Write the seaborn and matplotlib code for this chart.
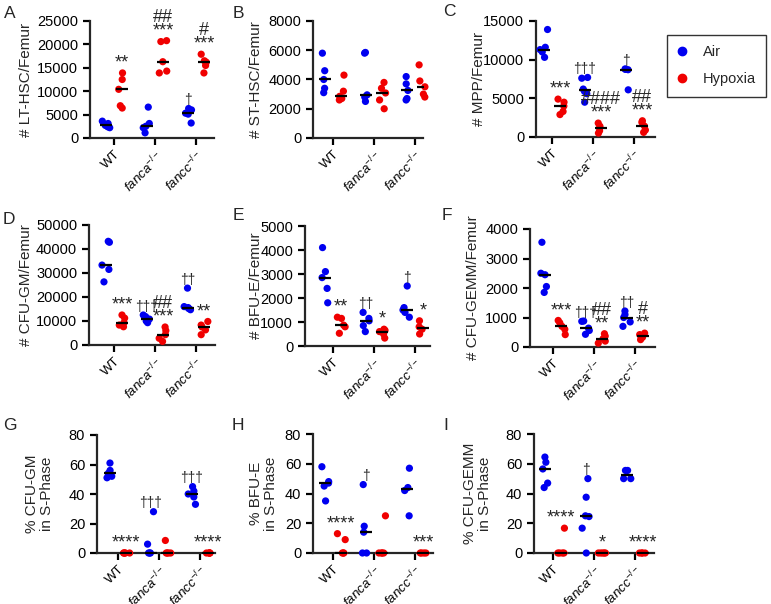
import warnings
import numpy as np
import pandas as pd
import matplotlib
matplotlib.use("Agg")
import matplotlib.pyplot as plt
from matplotlib.lines import Line2D
import seaborn as sns

warnings.filterwarnings("ignore")
np.random.seed(7)  # only for the horizontal jitter of the dots

# -------------------------------
# data
# group order: WT air, WT hyp, fanca air, fanca hyp, fancc air, fancc hyp
# -------------------------------
genotypes = ["WT", "fanca", "fancc"]
geno_labels = ["WT", r"$\mathit{fanca}^{\mathit{-/-}}$", r"$\mathit{fancc}^{\mathit{-/-}}$"]
conditions = ["Air", "Hypoxia"]

lt_hsc = [
    [3600, 3100, 2700, 2400, 2200],
    [13900, 12500, 10400, 6900, 6400],
    [6600, 3100, 2500, 2200, 1100],
    [20800, 20600, 16300, 14300, 13900],
    [6300, 6000, 5300, 5100, 3200],
    [17900, 16500, 16200, 15500, 13900],
]
st_hsc = [
    [5800, 4600, 4000, 3400, 3100],
    [4300, 3200, 2850, 2700, 2600],
    [5850, 5800, 2950, 2800, 2500],
    [3800, 3400, 3080, 2600, 2000],
    [4200, 3700, 3250, 2700, 2600],
    [5000, 3900, 3500, 3000, 2800],
]
mpp = [
    [13900, 11600, 11300, 11000, 10300],
    [4900, 4500, 4000, 3300, 2900],
    [7700, 7600, 6200, 5900, 5600, 4500],
    [1800, 1400, 1200, 800, 500],
    [8800, 8750, 8700, 6100],
    [2100, 1900, 1400, 900, 600],
]
cfu_gm = [
    [43200, 42800, 33300, 31500, 26300],
    [12500, 11200, 9300, 8300, 7600],
    [12500, 11800, 10800, 10000, 9300],
    [7500, 6000, 4300, 2800, 1500],
    [23700, 16000, 15600, 15200, 14700],
    [9800, 8300, 7500, 6300, 4300],
]
bfu_e = [
    [4100, 3100, 2850, 2400, 1800],
    [1200, 1150, 870, 800, 530],
    [1400, 1150, 1050, 850, 600],
    [700, 650, 600, 500, 330],
    [2500, 1600, 1500, 1400, 1200],
    [1050, 800, 700, 500],
]
cfu_gemm = [
    [3550, 2500, 2450, 2050, 1850],
    [900, 820, 700, 600, 420],
    [880, 870, 640, 560, 430],
    [450, 370, 280, 200, 130],
    [1220, 1100, 1000, 850, 700],
    [470, 420, 360, 330, 250],
]
s_cfu_gm = [
    [61, 56, 54, 52, 51],
    [0, 0, 0, 0, 0],
    [28, 6, 0, 0, 0],
    [8.5, 0, 0, 0, 0],
    [45, 42, 40, 38, 33],
    [0, 0, 0, 0, 0],
]
s_bfu_e = [
    [58, 48, 47, 45, 35],
    [13, 9, 0, 0, 0],
    [46, 18, 14, 0, 0],
    [25, 0, 0, 0, 0],
    [57, 44, 42, 25],
    [0, 0, 0, 0],
]
s_cfu_gemm = [
    [64.5, 61, 56.5, 47, 44],
    [16.7, 0, 0, 0, 0],
    [50, 37.5, 25, 24.5, 16.7, 0],
    [0, 0, 0, 0, 0],
    [55.5, 55.5, 50, 50],
    [0, 0, 0, 0],
]

# significance marks: (group index, text)
ann_a = [(1, "**"), (3, "##\n***"), (4, "†"), (5, "#\n***")]
ann_b = []
ann_c = [(1, "***"), (2, "†††"), (3, "####\n***"), (4, "†"), (5, "##\n***")]
ann_d = [(1, "***"), (2, "†††"), (3, "##\n***"), (4, "††"), (5, "**")]
ann_e = [(1, "**"), (2, "††"), (3, "*"), (4, "†"), (5, "*")]
ann_f = [(1, "***"), (2, "†††"), (3, "##\n**"), (4, "††"), (5, "#\n**")]
ann_g = [(1, "****"), (2, "†††"), (4, "†††"), (5, "****")]
ann_h = [(1, "****"), (2, "†"), (5, "***")]
ann_i = [(1, "****"), (2, "†"), (3, "*"), (5, "****")]

# -------------------------------
# style
# -------------------------------
sns.set_style("ticks")
plt.rcParams["font.family"] = ["Liberation Sans", "DejaVu Sans"]
plt.rcParams["mathtext.fontset"] = "custom"
plt.rcParams["mathtext.rm"] = "Liberation Sans"
plt.rcParams["mathtext.it"] = "Liberation Sans:italic"
plt.rcParams["axes.linewidth"] = 1.6

palette = {"Air": "#0000f0", "Hypoxia": "#f00000"}

W, H = 771, 604
fig = plt.figure(figsize=(W / 100, H / 100), dpi=100)

# layout in pixels: spine x, first tick x, axis end x, top y, bottom y,
# letter x, letter y, y-label right edge x
panels = [
    ("A", lt_hsc, "# LT-HSC/Femur", 25000, 5000, ann_a, (90, 114, 214, 21, 138, 10, 13, 33)),
    ("B", st_hsc, "# ST-HSC/Femur", 8000, 2000, ann_b, (313, 333, 423, 21, 138, 238, 13, 263)),
    ("C", mpp, "# MPP/Femur", 15000, 5000, ann_c, (536, 552, 655, 21, 137, 449, 12, 486)),
    ("D", cfu_gm, "# CFU-GM/Femur", 50000, 10000, ann_d, (89, 114, 215, 225, 345, 9, 219, 33)),
    ("E", bfu_e, "# BFU-E/Femur", 5000, 1000, ann_e, (305, 333, 430, 226, 346, 238, 215, 263)),
    ("F", cfu_gemm, "# CFU-GEMM/Femur", 4000, 1000, ann_f, (530, 553, 655, 229, 347, 447, 215, 480)),
    ("G", s_cfu_gm, "% CFU-GM\nin S-Phase", 80, 20, ann_g, (97, 118, 215, 435, 553, 10, 425, 54)),
    ("H", s_bfu_e, "% BFU-E\nin S-Phase", 80, 20, ann_h, (313, 333, 433, 434, 553, 238, 425, 278)),
    ("I", s_cfu_gemm, "% CFU-GEMM\nin S-Phase", 80, 20, ann_i, (534, 553, 654, 434, 553, 446, 425, 492)),
]

spacing = 41.0  # px between genotype ticks

for letter, groups, ylabel, ymax, step, marks, lay in panels:
    left, tick0, right, top, bottom, lx, ly, lab_x = lay
    rows = []
    for gi, vals in enumerate(groups):
        for v in vals:
            rows.append((genotypes[gi // 2], conditions[gi % 2], v))
    df = pd.DataFrame(rows, columns=["genotype", "condition", "value"])

    width = right - left
    ax = fig.add_axes([left / W, 1 - bottom / H, width / W, (bottom - top) / H])
    sns.stripplot(data=df, x="genotype", y="value", hue="condition",
                  order=genotypes, hue_order=conditions, palette=palette,
                  dodge=True, jitter=0.2, size=5.2, linewidth=0, legend=False,
                  ax=ax, zorder=3)
    sns.pointplot(data=df, x="genotype", y="value", hue="condition",
                  order=genotypes, hue_order=conditions, palette=["black", "black"],
                  estimator="median", errorbar=None, dodge=0.4, markers="_",
                  linestyle="none", markersize=8, markeredgewidth=1.6,
                  legend=False, ax=ax, zorder=4)
    for coll in ax.collections:
        coll.set_clip_on(False)

    ax.set_xlim(-(tick0 - left) / spacing, (right - tick0) / spacing)
    ax.set_ylim(0, ymax)
    ax.set_yticks(range(0, ymax + 1, step))
    ax.set_xticks(range(3))
    ax.set_xticklabels(geno_labels, rotation=45, ha="right", rotation_mode="anchor")
    ax.set_xlabel("")
    ax.set_ylabel(ylabel, fontsize=11, linespacing=1.1)
    ax.yaxis.set_label_coords((lab_x - left) / width, 0.5)
    ax.tick_params(axis="both", labelsize=10.5, width=1.6, length=5, color="black",
                   labelcolor="black")
    ax.tick_params(axis="x", labelsize=9.5, pad=2.5)
    sns.despine(ax=ax)

    for gi, txt in marks:
        x = gi // 2 + (-0.2 if gi % 2 == 0 else 0.2)
        fs = 10 if "†" in txt else 13
        ax.annotate(txt, xy=(x, max(groups[gi])), xytext=(0, 1),
                    textcoords="offset points", ha="center", va="bottom",
                    fontsize=fs, linespacing=0.75, annotation_clip=False)

    fig.text(lx / W, 1 - ly / H, letter, fontsize=12.5, ha="center", va="center")

handles = [
    Line2D([], [], marker="o", linestyle="none", color=palette["Air"], markersize=6),
    Line2D([], [], marker="o", linestyle="none", color=palette["Hypoxia"], markersize=6),
]
leg = fig.legend(handles, conditions, loc="upper left",
                 bbox_to_anchor=(667 / W, 1 - 35 / H), borderaxespad=0,
                 frameon=True, fancybox=False, edgecolor="black", fontsize=10.5,
                 handlelength=0.6, handletextpad=1.15, borderpad=0.7,
                 labelspacing=0.9)
leg.get_frame().set_linewidth(1.0)

fig.savefig("out.png", dpi=100)
